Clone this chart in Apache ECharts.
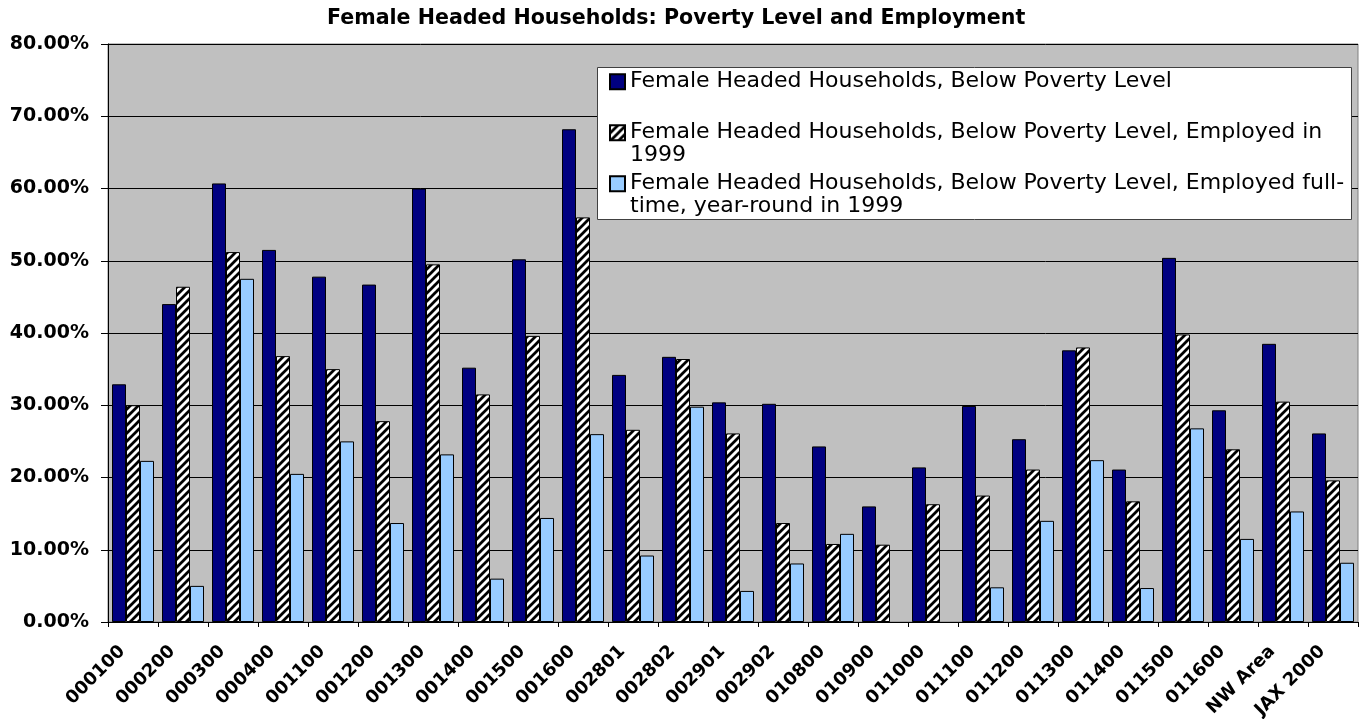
<!DOCTYPE html>
<html>
<head>
<meta charset="utf-8">
<script src="https://cdn.jsdelivr.net/npm/echarts@6/dist/echarts.min.js"></script>
<style>
html,body{margin:0;padding:0;background:#fff;}
#chart{width:1365px;height:719px;}
</style>
</head>
<body>
<div id="chart"></div>
<script>
const categories = ['000100','000200','000300','000400','001100','001200','001300','001400','001500','001600','002801','002802','002901','002902','010800','010900','011000','011100','011200','011300','011400','011500','011600','NW Area','JAX 2000'];
const belowPoverty = [32.9,44.0,60.7,51.5,47.8,46.7,60.0,35.2,50.2,68.2,34.2,36.7,30.4,30.2,24.3,16.0,21.4,29.9,25.3,37.6,21.1,50.4,29.3,38.5,26.1];
const employed = [30.0,46.4,51.2,36.8,35.0,27.8,49.5,31.5,39.6,56.0,26.6,36.4,26.1,13.7,10.8,10.7,16.3,17.5,21.1,38.0,16.7,39.8,23.9,30.5,19.6];
const fullTime = [22.3,5.0,47.5,20.5,25.0,13.7,23.2,6.0,14.4,26.0,9.2,29.8,4.3,8.1,12.2,null,null,4.8,14.0,22.4,4.7,26.8,11.5,15.3,8.2];
const seriesNames = [
  'Female Headed Households, Below Poverty Level',
  'Female Headed Households, Below Poverty Level, Employed in 1999',
  'Female Headed Households, Below Poverty Level, Employed full-time, year-round in 1999'
];
const legendLabels = [
  '\nFemale Headed Households, Below Poverty Level\n ',
  '\nFemale Headed Households, Below Poverty Level, Employed in\n1999',
  '\nFemale Headed Households, Below Poverty Level, Employed full-\ntime, year-round in 1999'
];
const titleText = 'Female Headed Households: Poverty Level and Employment';
const yTicks = {min: 0, max: 80, interval: 10};

// hatch pattern
const hatch = document.createElement('canvas');
hatch.width = 8; hatch.height = 8;
(function(){
  const c = hatch.getContext('2d');
  c.fillStyle = '#fff'; c.fillRect(0,0,8,8);
  c.strokeStyle = '#000'; c.lineWidth = 2.8;
  c.beginPath();
  c.moveTo(-2,10); c.lineTo(10,-2);
  c.moveTo(-6,6); c.lineTo(6,-6);
  c.moveTo(2,14); c.lineTo(14,2);
  c.stroke();
})();

const chart = echarts.init(document.getElementById('chart'), null, {renderer:'canvas'});
const F = 'DejaVu Sans';
const L = 23;
chart.setOption({
  animation: false,
  backgroundColor: '#fff',
  title: {
    text: titleText, left: 327, top: 8, padding: 0,
    textStyle: {fontFamily: F, fontWeight: 'bold', fontSize: 20.6, color: '#000'}
  },
  graphic: [{
    type: 'rect', z: 3, silent: true,
    shape: {x: 597.5, y: 67.5, width: 754, height: 152},
    style: {fill: '#fff', stroke: '#404040', lineWidth: 1}
  }],
  legend: {
    orient: 'vertical', left: 609, top: 81.7 - 1.5 * L, padding: 0,
    itemWidth: 15, itemHeight: 15, itemGap: 51 - 3 * L,
    icon: 'rect', selectedMode: false, z: 5,
    formatter: function(name){ return legendLabels[seriesNames.indexOf(name)]; },
    textStyle: {fontFamily: F, fontSize: 22, color: '#000', lineHeight: L},
    data: seriesNames
  },
  grid: {
    left: 108, right: 7, top: 44, bottom: 97, containLabel: false, outerBoundsMode: 'none',
    show: true, backgroundColor: '#C0C0C0', borderColor: '#808080', borderWidth: 1
  },
  xAxis: {
    type: 'category', data: categories,
    axisLine: {lineStyle: {color: '#000', width: 1}},
    axisTick: {show: true, alignWithLabel: false, length: 5, lineStyle: {color: '#000'}},
    axisLabel: {
      rotate: 45, interval: 0, margin: 16,
      formatter: function(v){ return '{a|' + v + '}'; },
      rich: {a: {padding: [0, 15, 0, 0], fontFamily: F, fontWeight: 'bold', fontSize: 18, color: '#000'}},
      fontFamily: F, fontWeight: 'bold', fontSize: 18, color: '#000'
    }
  },
  yAxis: {
    type: 'value', min: yTicks.min, max: yTicks.max, interval: yTicks.interval,
    axisLine: {show: true, lineStyle: {color: '#000', width: 1}},
    axisTick: {show: true, length: 7, lineStyle: {color: '#000'}},
    splitLine: {show: true, lineStyle: {color: '#000', width: 1}},
    axisLabel: {
      margin: 19, formatter: function(v){ return v.toFixed(2) + '%'; },
      fontFamily: F, fontWeight: 'bold', fontSize: 19, color: '#000'
    }
  },
  series: [
    {name: seriesNames[0], type: 'bar', data: belowPoverty, barWidth: 14, barGap: '0%',
     itemStyle: {color: '#000080', borderColor: '#000', borderWidth: 1}},
    {name: seriesNames[1], type: 'bar', data: employed, barWidth: 14, barGap: '0%',
     itemStyle: {color: {image: hatch, repeat: 'repeat'}, borderColor: '#000', borderWidth: 1}},
    {name: seriesNames[2], type: 'bar', data: fullTime, barWidth: 14, barGap: '0%',
     itemStyle: {color: '#99CCFF', borderColor: '#000', borderWidth: 1}}
  ]
});
</script>
</body>
</html>
